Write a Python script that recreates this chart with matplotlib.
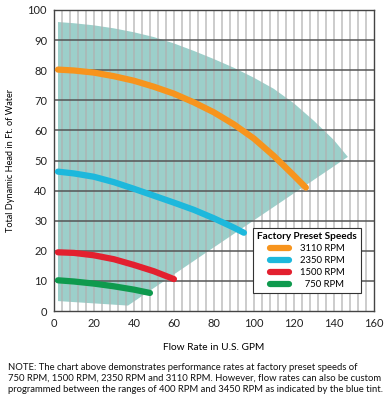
import numpy as np
import matplotlib
matplotlib.use('Agg')
import matplotlib.pyplot as plt
from matplotlib.lines import Line2D

plt.rcParams['font.family'] = ['Lato', 'DejaVu Sans']

# speed curves (GPM, ft of head)
gpm_3110 = [2, 10, 20, 30, 40, 50, 60, 70, 80, 90, 100, 110, 120, 126]
head_3110 = [80.2, 79.9, 79.2, 78.0, 76.5, 74.5, 72.2, 69.3, 66.0, 62.0, 57.3, 51.5, 45.0, 41.0]
gpm_2350 = [2, 10, 20, 30, 40, 50, 60, 70, 80, 90, 95]
head_2350 = [46.3, 45.7, 44.6, 42.8, 40.6, 38.3, 36.0, 33.6, 30.8, 27.7, 26.0]
gpm_1500 = [2, 10, 20, 30, 40, 50, 60]
head_1500 = [19.5, 19.3, 18.5, 17.2, 15.3, 13.2, 10.6]
gpm_750 = [2, 10, 20, 30, 40, 48]
head_750 = [10.2, 9.8, 9.1, 8.2, 7.1, 6.0]

# custom-speed range (blue tint)
range_top_gpm = [2, 10, 20, 30, 40, 50, 60, 70, 80, 90, 100, 110, 120, 130, 140, 147]
range_top_head = [96, 95.6, 94.9, 93.9, 92.6, 91.0, 88.9, 86.4, 83.7, 80.8, 77.5, 73.8, 69.0, 63.2, 56.8, 51.2]
range_bot_gpm = [147, 73, 37, 2]
range_bot_head = [51.2, 18, 1.8, 3.3]

labels = ['3110 RPM', '2350 RPM', '1500 RPM', '  750 RPM']
colors = ['#f7941d', '#1db8dc', '#e3202f', '#0f9a4e']

fig = plt.figure(figsize=(3.87, 4.0), dpi=100)
ax = fig.add_axes([0.1395, 0.2225, 0.8265, 0.7525])

poly_x = range_top_gpm + range_bot_gpm[1:]
poly_y = range_top_head + range_bot_head[1:]
ax.fill(poly_x, poly_y, color='#9ccfca', lw=0, zorder=1)

for x in np.arange(4, 160, 4):
    ax.axvline(x, color='#b0b0b0', lw=1.2, alpha=0.75, zorder=2)
for y in np.arange(10, 100, 10):
    ax.axhline(y, color='#555555', lw=1.1, zorder=2)

series = [(gpm_3110, head_3110), (gpm_2350, head_2350),
          (gpm_1500, head_1500), (gpm_750, head_750)]
for (gx, hy), c in zip(series, colors):
    ax.plot(gx, hy, color=c, lw=4.5, solid_capstyle='round',
            solid_joinstyle='round', zorder=3)

ax.set_xlim(0, 160)
ax.set_ylim(0, 100)
ax.set_xticks(np.arange(0, 161, 20))
ax.set_yticks(np.arange(0, 101, 10))
ax.tick_params(length=0, labelsize=8, pad=5, colors='#222222')
for sp in ax.spines.values():
    sp.set_color('#444444')
    sp.set_linewidth(1.0)

ax.set_xlabel('Flow Rate in U.S. GPM', fontsize=7.3, labelpad=10)
ax.set_ylabel('Total Dynamic Head in Ft. of Water', fontsize=6.6, labelpad=9)

handles = [Line2D([0], [0], color=c, lw=4.5, solid_capstyle='round') for c in colors]
leg = ax.legend(handles, labels, title='Factory Preset Speeds',
                loc='lower right', bbox_to_anchor=(0.975, 0.043),
                fontsize=6.8, title_fontsize=7.2, frameon=True, fancybox=False,
                edgecolor='#333333', framealpha=1, handlelength=2.1,
                handletextpad=1.1, labelspacing=0.32, borderpad=0.45)
leg.get_title().set_fontweight('bold')
leg.get_frame().set_linewidth(0.8)
leg.set_zorder(5)

fig.text(0.02, 0.092,
         'NOTE: The chart above demonstrates performance rates at factory preset speeds of\n'
         '750 RPM, 1500 RPM, 2350 RPM and 3110 RPM. However, flow rates can also be custom\n'
         'programmed between the ranges of 400 RPM and 3450 RPM as indicated by the blue tint.',
         fontsize=6.8, va='top', ha='left', linespacing=1.25, color='#111111')

fig.savefig('out.png', dpi=100)
